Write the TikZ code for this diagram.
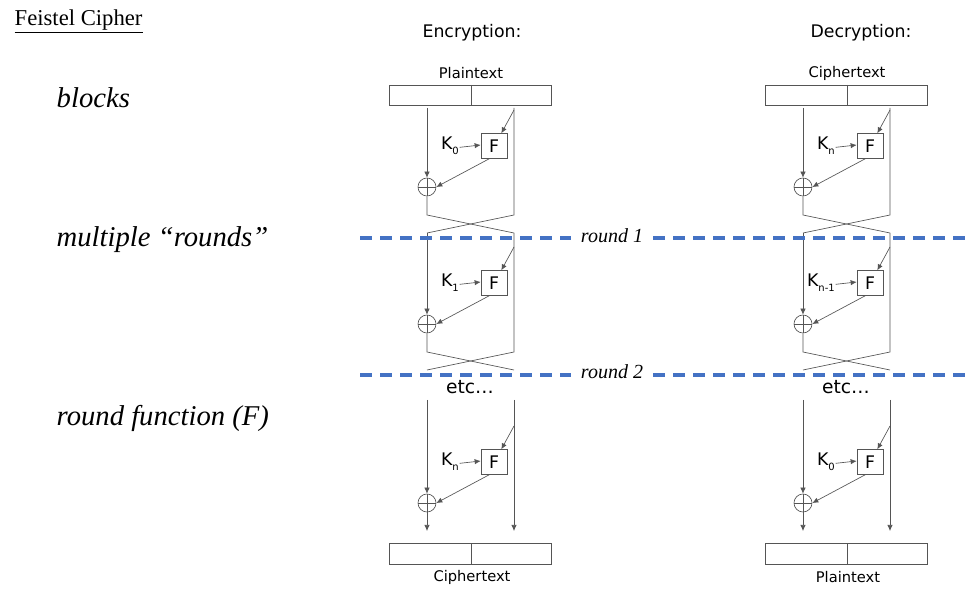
\documentclass[tikz,border=0pt]{standalone}
\usepackage{fontspec}
\setmainfont{Liberation Serif}
\newfontfamily\diafont{DejaVu Sans}
\usetikzlibrary{arrows.meta}
\definecolor{wire}{HTML}{555555}
\definecolor{dashblue}{HTML}{4472C4}

\tikzset{
  wire/.style={draw=wire,line width=0.5pt},
  arr/.style={wire,-{Latex[length=4.5pt,width=4pt]}},
  fbox/.style={draw=wire,line width=0.5pt,minimum width=19.5pt,minimum height=18.5pt,inner sep=0pt,font=\diafont\fontsize{13}{13}\selectfont},
  xorc/.style={circle,draw=wire,line width=0.5pt,minimum size=13.5pt,inner sep=0pt,
    path picture={\draw[wire] (path picture bounding box.north) -- (path picture bounding box.south)
      (path picture bounding box.west) -- (path picture bounding box.east);}},
  klab/.style={font=\diafont\fontsize{13}{13}\selectfont,inner sep=0pt,anchor=east},
  lab/.style={font=\diafont\fontsize{11}{11}\selectfont},
  head/.style={font=\diafont\fontsize{13}{13}\selectfont},
  side/.style={font=\itshape\fontsize{21.5}{21.5}\selectfont,anchor=west},
  roundline/.style={draw=dashblue,line width=2.7pt,dash pattern=on 9pt off 6pt},
  roundlab/.style={font=\itshape\fontsize{15}{15}\selectfont}
}

\begin{document}
\begin{tikzpicture}[x=0.75pt,y=-0.75pt]
\useasboundingbox (0,0) rectangle (965,602);

% left column
\node[anchor=west,font=\fontsize{17}{17}\selectfont] (title) at (10,21) {\underline{Feistel Cipher}};
\node[side] (blocks) at (52,98) {blocks};
\node[side] (rounds) at (52,240) {multiple ``rounds''};
\node[side] (rfunc) at (52,418) {round function (F)};

% round separators
\node[roundlab] (r1) at (612,236) {round 1};
\node[roundlab] (r2) at (612,372) {round 2};
\coordinate (r1a) at (360,238);
\coordinate (r1b) at (965,238);
\coordinate (r2a) at (360,375);
\coordinate (r2b) at (965,375);

% one column per direction
\foreach \cx/\hx/\nm/\hd/\tp/\bt/\ka/\kb/\kc in {0/472/e/Encryption:/Plaintext/Ciphertext/0/1/n, 376/485/d/Decryption:/Ciphertext/Plaintext/n/n-1/0}{
  \begin{scope}[xshift=\cx*0.75pt]
  \node[head] (hd\nm) at (\hx,33) {\hd};
  \node[lab] (tp\nm) at (471,73) {\tp};
  \node[lab] (bt\nm) at (472,577) {\bt};
  \draw[wire] (389,85) rectangle (551,105) (471,85) -- (471,105);
  \draw[wire] (389,543) rectangle (551,564) (471,543) -- (471,564);
  \node[head,font=\diafont\fontsize{14}{14}\selectfont] (etc\nm) at (470,387) {etc\dots};

  \foreach \o/\k/\r in {0/\ka/1, 137/\kb/2, 316/\kc/3}{
    \node[fbox] (F\r\nm) at (494,146+\o) {F};
    \node[xorc] (X\r\nm) at (427,187+\o) {};
    \node[klab] (K\r\nm) at (459,146+\o) {K\raisebox{-4pt}{\fontsize{7.5}{7.5}\selectfont\k}};
    \coordinate (Rt\r\nm) at (514,110+\o);
    \draw[arr] (K\r\nm.east) ++(0.5pt,-1pt) -- (F\r\nm.west |- 0,145+\o);
    \draw[arr] (Rt\r\nm) -- (F\r\nm.60);
    \draw[arr] (F\r\nm.250) -- (X\r\nm.east);
  }

  % rounds 1 and 2: straight lines, then the swap
  \foreach \o/\r/\s in {0/1/108, 137/2/96}{
    \coordinate (L\r\nm) at (427,\s+\o);
    \coordinate (R\r\nm) at (514,\s+\o);
    \coordinate (Ld\r\nm) at (427,215+\o);
    \coordinate (Rd\r\nm) at (514,215+\o);
    \coordinate (Ls\r\nm) at (427,233+\o);
    \coordinate (Rs\r\nm) at (514,233+\o);
    \draw[arr] (L\r\nm) -- (X\r\nm.north);
    \draw[wire] (X\r\nm.south) -- (Ld\r\nm) -- (Rs\r\nm);
    \draw[wire] (R\r\nm) -- (Rd\r\nm) -- (Ls\r\nm);
  }

  % last round
  \coordinate (L3\nm) at (427,400);
  \coordinate (R3\nm) at (514,400);
  \coordinate (Lo\nm) at (427,531);
  \coordinate (Ro\nm) at (514,531);
  \draw[arr] (L3\nm) -- (X3\nm.north);
  \draw[arr] (X3\nm.south) -- (Lo\nm);
  \draw[arr] (R3\nm) -- (Ro\nm);
  \end{scope}
}

\draw[roundline] (r1a) -- ([xshift=-4pt]r1.west |- r1a) ([xshift=4pt]r1.east |- r1b) -- (r1b);
\draw[roundline] (r2a) -- ([xshift=-4pt]r2.west |- r2a) ([xshift=4pt]r2.east |- r2b) -- (r2b);
\end{tikzpicture}
\end{document}
